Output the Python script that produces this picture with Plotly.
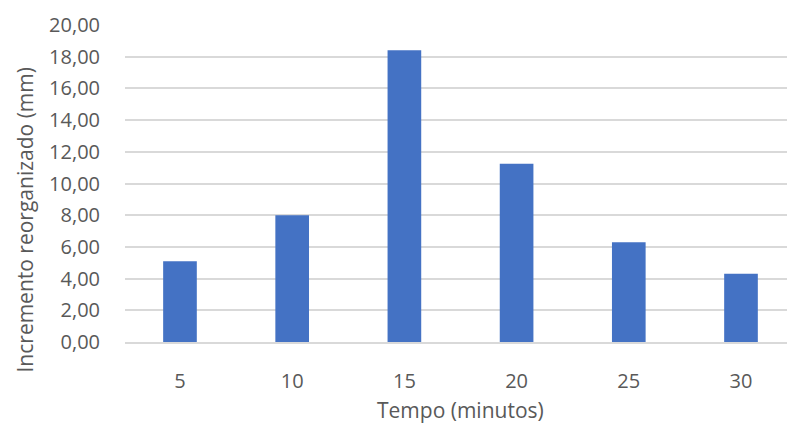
import plotly.graph_objects as go

# Tempo (minutos) e incremento reorganizado (mm)
tempos = ["5", "10", "15", "20", "25", "30"]
incremento = [5.1, 8.0, 18.4, 11.25, 6.3, 4.3]
y_ticks = [0, 2, 4, 6, 8, 10, 12, 14, 16, 18, 20]
y_tick_labels = ["0,00", "2,00", "4,00", "6,00", "8,00", "10,00",
                 "12,00", "14,00", "16,00", "18,00", "20,00"]

FONT = "Open Sans"
GREY = "#595959"

fig = go.Figure(
    go.Bar(
        x=tempos,
        y=incremento,
        width=0.30,
        marker=dict(color="#4472C4", line=dict(width=0)),
    )
)

fig.update_layout(
    width=787,
    height=425,
    margin=dict(l=125, r=0, t=25, b=83),
    paper_bgcolor="white",
    plot_bgcolor="white",
    showlegend=False,
    font=dict(family=FONT, color=GREY, size=20),
)

fig.update_xaxes(
    type="category",
    range=[-0.49, 5.41],
    showgrid=False,
    showline=True,
    linecolor="#D9D9D9",
    linewidth=1.5,
    ticks="",
    ticklabelstandoff=20,
    tickfont=dict(family=FONT, size=20, color=GREY),
)

fig.update_yaxes(
    range=[0, 20],
    tickvals=y_ticks,
    ticktext=y_tick_labels,
    showgrid=True,
    gridcolor="#D9D9D9",
    gridwidth=1.5,
    zeroline=False,
    showline=False,
    ticks="",
    ticklabelstandoff=24,
    tickfont=dict(family=FONT, size=20, color=GREY),
)

# Axis titles
fig.add_annotation(
    text="Tempo (minutos)",
    xref="x", yref="paper",
    x=2.5, y=0,
    yshift=-68, yanchor="middle",
    showarrow=False,
    font=dict(family=FONT, size=21, color=GREY),
)
fig.add_annotation(
    text="Incremento reorganizado (mm)",
    xref="paper", yref="paper",
    x=0, y=0.5,
    xshift=-117, yshift=-37,
    textangle=-90,
    showarrow=False,
    font=dict(family=FONT, size=21, color=GREY),
)

fig.write_html("out.html")
